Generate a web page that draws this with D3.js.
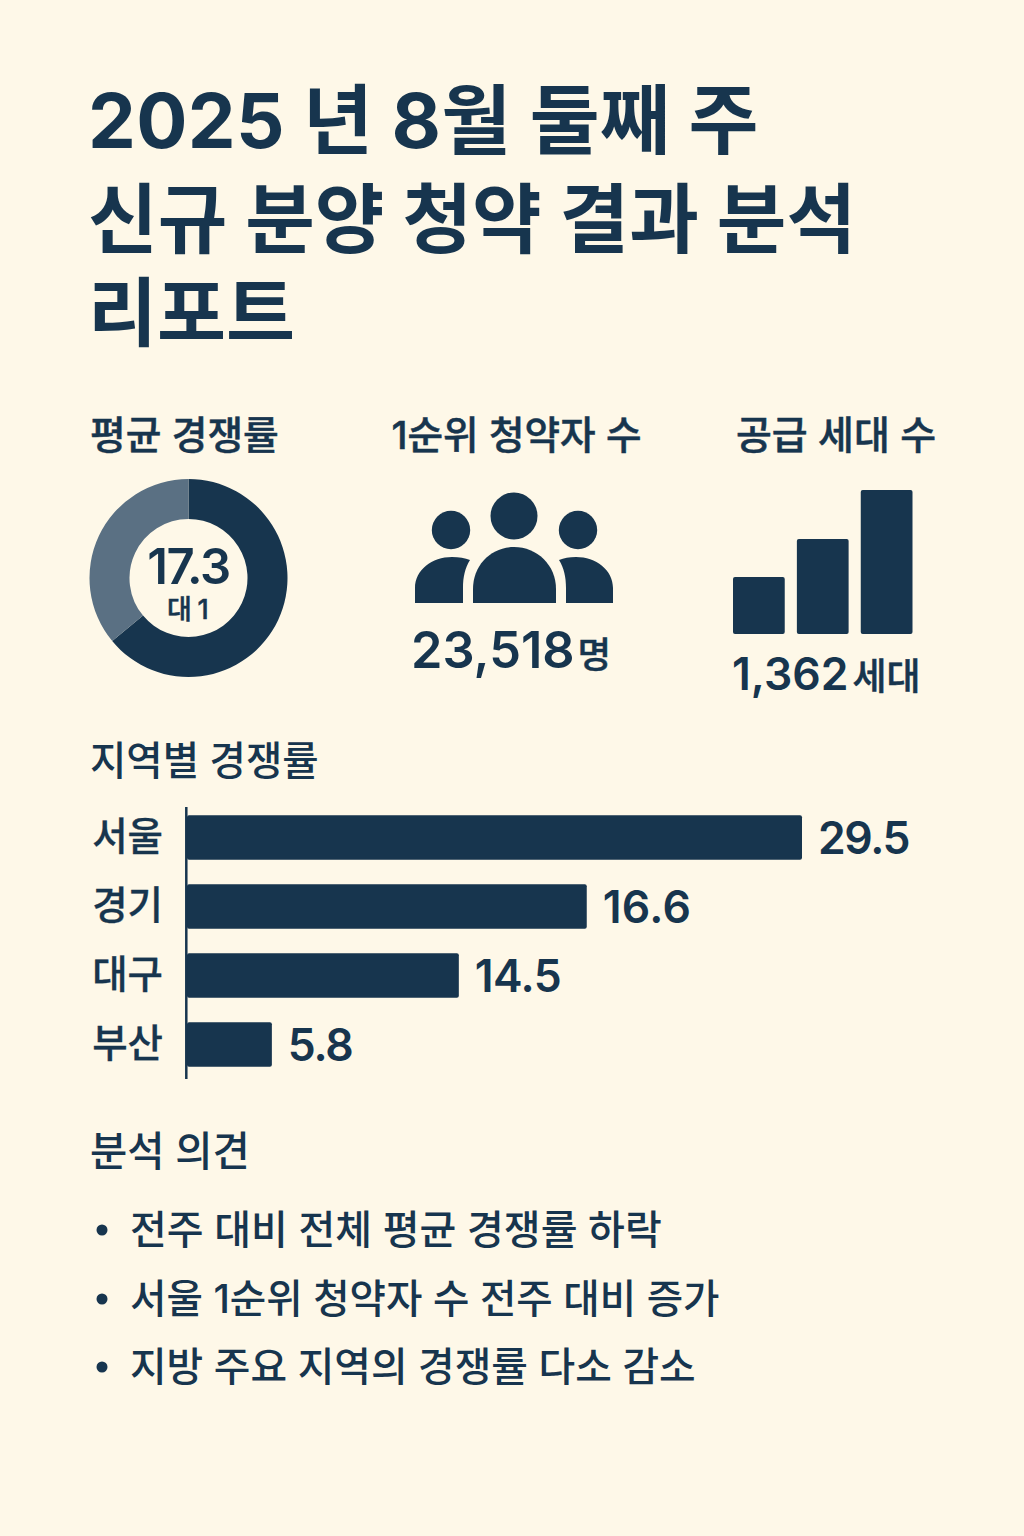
<!DOCTYPE html>
<html lang="ko"><head><meta charset="utf-8">
<script src="https://cdn.jsdelivr.net/npm/d3@7/dist/d3.min.js"></script>
<style>html,body{margin:0;padding:0;background:#FEF8E8}svg{display:block}
text{font-family:"Inter","Noto Sans CJK KR",sans-serif;fill:#17354E}</style></head><body>
<svg id="c" width="1024" height="1536"></svg>
<script>
const titleLines = ["2025 년 8월 둘째 주", "신규 분양 청약 결과 분석", "리포트"];
const kpiTitles = ["평균 경쟁률", "1순위 청약자 수", "공급 세대 수"];
const donutValues = [64, 36];
const avgRate = "17.3";
const avgRateUnit = "대 1";
const applicants = "23,518";
const applicantsUnit = "명";
const households = "1,362";
const householdsUnit = "세대";
const supplyIconBars = [57, 95, 144];
const regionTitle = "지역별 경쟁률";
const regions = ["서울", "경기", "대구", "부산"];
const regionLabels = [29.5, 16.6, 14.5, 5.8];
// bar lengths as drawn in the picture, as % of the longest bar (the picture's bars are not proportional to their labels)
const regionBarLengths = [100, 65, 44.2, 13.8];
const opinionTitle = "분석 의견";
const opinions = ["전주 대비 전체 평균 경쟁률 하락", "서울 1순위 청약자 수 전주 대비 증가", "지방 주요 지역의 경쟁률 다소 감소"];

const DARK = "#17354E", LIGHT = "#5A7083";
const svg = d3.select("#c");
svg.append("rect").attr("width", 1024).attr("height", 1536).attr("fill", "#FEF8E8");

function label(x, y, s, size, weight, anchor) {
  return svg.append("text").attr("x", x).attr("y", y).attr("font-size", size)
    .attr("font-weight", weight).attr("text-anchor", anchor || "start").text(s);
}
const semi = sel => sel.attr("stroke", DARK).attr("stroke-width", 0.5);

// title
const titleY = [148, 247, 340];
const titleSize = [76, 75.7, 75];
const titleSpacing = [0.3, 0, 0];
titleLines.forEach((t, i) => label(88, titleY[i], t, titleSize[i], 700).attr("letter-spacing", titleSpacing[i]));

// KPI headers
semi(label(90, 449, kpiTitles[0], 38.8, 500));
semi(label(516.5, 449, kpiTitles[1], 38.7, 500, "middle"));
semi(label(836, 449, kpiTitles[2], 39, 500, "middle"));

// donut
const pie = d3.pie().sort(null);
const arc = d3.arc().innerRadius(59).outerRadius(99);
const donut = svg.append("g").attr("transform", "translate(188.5,578)");
donut.selectAll("path").data(pie(donutValues)).join("path")
  .attr("d", arc).attr("fill", (d, i) => i ? LIGHT : DARK);
label(188.5, 584, avgRate, 49, 600, "middle").attr("letter-spacing", -1.5);
semi(label(187.5, 619, avgRateUnit, 27, 500, "middle").attr("letter-spacing", -0.8));

// people icon
const people = svg.append("g").attr("fill", DARK);
[[451, 530, 19.2], [514, 516, 23.5], [578, 530, 19.2]].forEach(c =>
  people.append("circle").attr("cx", c[0]).attr("cy", c[1]).attr("r", c[2]));
people.append("path").attr("d", "M473 603V589C473 565 491 547 514 547C537 547 556 565 556 589V603Z");
people.append("path").attr("d", "M415 603V588C415 570 432 557 452 557C459 557 465 558 470 560C465 568 463 577 463 588V603Z");
people.append("path").attr("d", "M613 603V588C613 570 596 557 576 557C569 557 564 558 559 560C564 568 566 577 566 588V603Z");
label(411, 668, applicants, 50.5, 600);
semi(label(577.5, 668, applicantsUnit, 36.5, 500));

// supply icon
const xIcon = d3.scaleBand().domain(d3.range(supplyIconBars.length)).range([733, 912.5]).paddingInner(0.19);
const yIcon = d3.scaleLinear().domain([0, 144]).range([634, 490]);
svg.append("g").selectAll("rect").data(supplyIconBars).join("rect")
  .attr("x", (d, i) => xIcon(i)).attr("width", xIcon.bandwidth())
  .attr("y", d => yIcon(d)).attr("height", d => yIcon(0) - yIcon(d))
  .attr("rx", 2).attr("fill", DARK);
label(732, 690, households, 44.5, 600);
semi(label(852.5, 690, householdsUnit, 37, 500));

// region bars
label(90, 775, regionTitle, 39.5, 500);
const yBand = d3.scaleBand().domain(regions).range([803, 1079]).paddingInner(0.355).paddingOuter(0.1775);
const xBar = d3.scaleLinear().domain([0, 100]).range([187, 802]);
svg.append("g").selectAll("rect").data(regions).join("rect")
  .attr("x", xBar(0)).attr("y", d => yBand(d)).attr("height", yBand.bandwidth())
  .attr("width", (d, i) => xBar(regionBarLengths[i]) - xBar(0))
  .attr("rx", 2).attr("fill", DARK);
const axis = svg.append("g").attr("transform", "translate(186,0)")
  .call(d3.axisLeft(yBand).tickSize(0).tickPadding(23));
axis.select(".domain").remove();
axis.selectAll("text").attr("font-size", 38.5).attr("font-weight", 500)
  .attr("font-family", null).attr("fill", null).attr("stroke", DARK).attr("stroke-width", 0.3);
svg.append("line").attr("x1", 186.3).attr("x2", 186.3).attr("y1", 807).attr("y2", 1079)
  .attr("stroke", DARK).attr("stroke-width", 2.5);
const valueSpacing = [-1.4, 0.3, -0.6, -1.2];
regions.forEach((r, i) =>
  label(xBar(regionBarLengths[i]) + 16, yBand(r) + yBand.bandwidth() / 2 + 16,
    regionLabels[i].toFixed(1), 44.5, 600).attr("letter-spacing", valueSpacing[i]));

// opinion
label(90, 1166, opinionTitle, 40.5, 500);
const opinionY = [1244, 1313, 1381];
const opinionSize = [40, 39.6, 39.8];
opinions.forEach((t, i) => {
  svg.append("circle").attr("cx", 102).attr("cy", opinionY[i] - 14).attr("r", 5.5).attr("fill", DARK);
  label(130, opinionY[i], t, opinionSize[i], 500);
});
</script></body></html>
